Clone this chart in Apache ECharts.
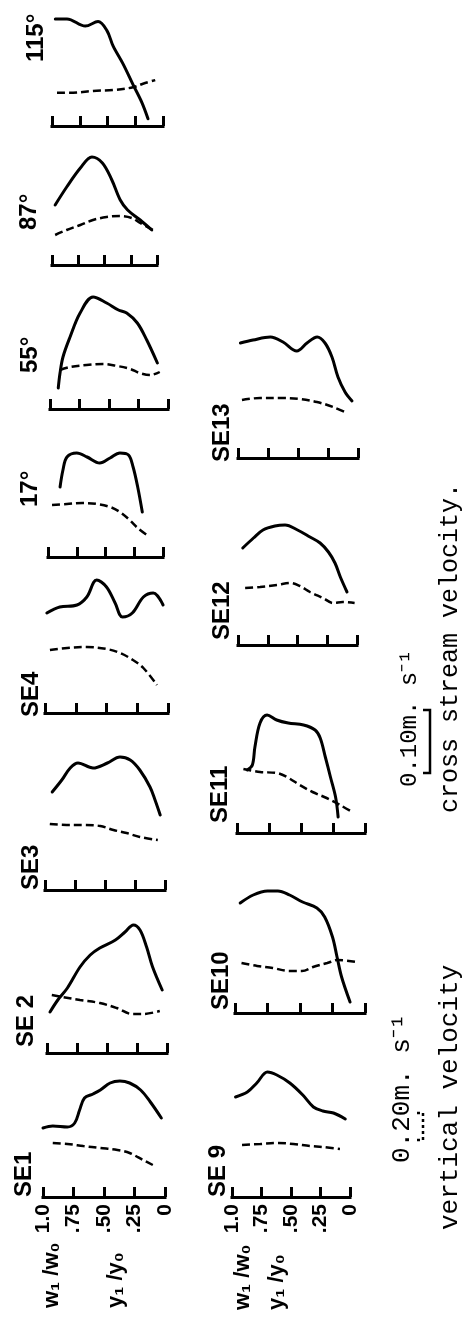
<!DOCTYPE html>
<html><head><meta charset="utf-8">
<script src="https://cdn.jsdelivr.net/npm/echarts@6/dist/echarts.min.js"></script>
<style>html,body{margin:0;padding:0;background:#fff}#c{width:468px;height:1319px}</style>
</head><body><div id="c"></div>
<script>
// ---- categories / tick labels ----
const panelNames = ['SE1', 'SE 2', 'SE3', 'SE4', '17°', '55°', '87°', '115°', 'SE 9', 'SE10', 'SE11', 'SE12', 'SE13'];
const tickValues = [0, 0.25, 0.5, 0.75, 1];
const tickLabels = ['0', '.25', '.50', '.75', '1.0'];

// ---- data: [y1/y0 position, profile height] ----
const solidSE1 = [[1.0,69],[0.92,71],[0.80,70],[0.74,74],[0.70,87],[0.66,99],[0.59,103],[0.53,107],[0.45,114],[0.37,116],[0.29,114],[0.20,107],[0.12,95],[0.03,79]];
const dashedSE1 = [[0.92,54],[0.80,53],[0.67,51],[0.53,49],[0.39,47],[0.29,44],[0.18,37],[0.10,32]];
const solidSE2 = [[0.975,41],[0.91,53],[0.83,65],[0.725,86],[0.64,98],[0.56,105],[0.43,113],[0.35,121],[0.28,128],[0.225,123],[0.17,106],[0.12,86],[0.04,63]];
const dashedSE2 = [[0.96,58],[0.87,56],[0.725,53],[0.56,50],[0.42,45],[0.29,39],[0.20,39],[0.06,42]];
const solidSE3 = [[0.94,98],[0.86,110],[0.79,122],[0.725,127],[0.60,122],[0.48,127],[0.375,133],[0.29,130],[0.21,120],[0.125,103],[0.083,90],[0.04,75]];
const dashedSE3 = [[0.96,66],[0.82,65],[0.68,65],[0.54,64],[0.43,60],[0.32,57],[0.21,53],[0.06,50]];
const solidSE4 = [[0.985,100],[0.88,106],[0.74,108],[0.66,116],[0.58,133],[0.50,126],[0.43,110],[0.37,96],[0.29,100],[0.20,116],[0.12,120],[0.04,108]];
const dashedSE4 = [[0.96,63],[0.82,65],[0.66,66],[0.50,64],[0.39,60],[0.285,53],[0.20,45],[0.09,28]];
const solid17 = [[0.895,70],[0.87,87],[0.835,100],[0.75,104],[0.66,100],[0.55,94],[0.46,99],[0.375,104],[0.30,102],[0.26,90],[0.22,70],[0.18,45]];
const dashed17 = [[0.965,52],[0.835,53],[0.70,54],[0.575,53],[0.46,50],[0.375,45],[0.29,37],[0.22,29],[0.14,22]];
const solid55 = [[0.93,21],[0.915,36],[0.89,52],[0.83,72],[0.745,96],[0.635,112],[0.52,106],[0.42,99],[0.35,96],[0.26,86],[0.18,69],[0.09,46]];
const dashed55 = [[0.915,39],[0.83,42],[0.69,44],[0.55,45],[0.43,43],[0.32,40],[0.24,36],[0.15,34],[0.07,37]];
const solid87 = [[0.97,60],[0.86,78],[0.73,97],[0.62,108],[0.52,102],[0.43,85],[0.35,65],[0.28,55],[0.16,45],[0.05,35]];
const dashed87 = [[0.97,30],[0.86,35],[0.73,40],[0.61,45],[0.48,48],[0.35,49],[0.24,47],[0.16,42],[0.04,35]];
const solid115 = [[0.97,119],[0.865,119],[0.70,111],[0.585,116],[0.505,106],[0.45,89],[0.36,69],[0.27,46],[0.19,26],[0.135,8]];
const dashed115 = [[0.955,37],[0.81,37],[0.63,39],[0.45,40],[0.27,43],[0.18,47],[0.07,51]];
const solidSE9 = [[0.97,100],[0.87,105],[0.79,114],[0.70,125],[0.62,122],[0.51,114],[0.40,102],[0.31,90],[0.23,86],[0.14,84],[0.04,78]];
const dashedSE9 = [[0.915,52],[0.76,53],[0.62,54],[0.48,53],[0.34,51],[0.23,50],[0.085,48]];
const solidSE10 = [[0.96,110],[0.86,118],[0.75,122],[0.67,122],[0.58,118],[0.48,111],[0.37,105],[0.31,96],[0.25,76],[0.215,56],[0.18,36],[0.115,11]];
const dashedSE10 = [[0.95,50],[0.83,47],[0.71,45],[0.58,42],[0.485,42],[0.40,46],[0.29,50],[0.21,53],[0.06,51]];
const solidSE11 = [[0.92,63],[0.88,68],[0.86,86],[0.82,110],[0.765,118],[0.69,113],[0.60,110],[0.48,108],[0.39,103],[0.35,95],[0.31,76],[0.27,56],[0.23,36],[0.21,16]];
const dashedSE11 = [[0.95,64],[0.82,61],[0.69,60],[0.61,56],[0.51,48],[0.41,41],[0.30,35],[0.195,28],[0.10,21]];
const solidSE12 = [[0.96,97],[0.87,107],[0.79,115],[0.69,119],[0.605,120],[0.50,115],[0.395,108],[0.31,102],[0.24,93],[0.185,82],[0.14,68],[0.084,53]];
const dashedSE12 = [[0.94,57],[0.815,58],[0.67,60],[0.56,62],[0.48,59],[0.395,53],[0.286,47],[0.20,42],[0.12,43],[0.02,42]];
const solidSE13 = [[0.98,115],[0.875,118],[0.73,121],[0.625,116],[0.51,107],[0.425,115],[0.34,121],[0.275,115],[0.217,101],[0.167,81],[0.108,66],[0.05,57]];
const dashedSE13 = [[0.967,58],[0.817,60],[0.65,60],[0.483,59],[0.342,56],[0.208,51],[0.092,45]];

const solidSets = [solidSE1, solidSE2, solidSE3, solidSE4, solid17, solid55, solid87, solid115, solidSE9, solidSE10, solidSE11, solidSE12, solidSE13];
const dashedSets = [dashedSE1, dashedSE2, dashedSE3, dashedSE4, dashed17, dashed55, dashed87, dashed115, dashedSE9, dashedSE10, dashedSE11, dashedSE12, dashedSE13];

// ---- layout (pixels): bracket left, right, baseline; label x, label start y ----
const layout = [
  {l:43, r:165, b:1197, lx:24, ly:1197, ticks:true},
  {l:47, r:167, b:1053, lx:26, ly:1047},
  {l:45, r:165, b:890,  lx:31, ly:890},
  {l:45, r:168, b:713,  lx:31, ly:717},
  {l:48, r:163, b:557,  lx:30, ly:507},
  {l:50, r:168, b:409,  lx:30, ly:373},
  {l:52, r:157, b:265,  lx:29, ly:230},
  {l:52, r:163, b:126,  lx:36, ly:62},
  {l:232, r:350, b:1197, lx:218, ly:1197, ticks:true},
  {l:235, r:365, b:1013, lx:221, ly:1010},
  {l:237, r:365, b:833,  lx:220, ly:823},
  {l:238, r:357, b:645,  lx:222, ly:640},
  {l:238, r:358, b:458,  lx:222, ly:462}
];
const H = 140;

const grids = [], xAxes = [], yAxes = [], series = [], graphics = [];
panelNames.forEach((name, i) => {
  const L = layout[i];
  grids.push({left: L.l, top: L.b - H, width: L.r - L.l, height: H, containLabel: false});
  xAxes.push({
    gridIndex: i, type: 'value', min: 0, max: 1, interval: 0.25, inverse: true,
    axisLine: {show: true, onZero: false, lineStyle: {color: '#000', width: 3, cap: 'square'}},
    axisTick: {show: true, inside: true, length: 10, lineStyle: {color: '#000', width: 3}},
    axisLabel: {
      show: !!L.ticks, rotate: 90, margin: 7, fontSize: 21, fontWeight: 'bold',
      fontFamily: 'Liberation Sans', color: '#000', showMinLabel: true, showMaxLabel: true,
      formatter: v => tickLabels[tickValues.indexOf(Math.round(v * 4) / 4)]
    },
    splitLine: {show: false}
  });
  yAxes.push({gridIndex: i, type: 'value', min: 0, max: H, show: false});
  series.push({
    type: 'line', xAxisIndex: i, yAxisIndex: i, data: solidSets[i], symbol: 'none',
    smooth: 0.35, clip: false, lineStyle: {color: '#000', width: 3, cap: 'round', join: 'round'}
  });
  series.push({
    type: 'line', xAxisIndex: i, yAxisIndex: i, data: dashedSets[i], symbol: 'none',
    smooth: 0.35, clip: false, lineStyle: {color: '#000', width: 2.5, type: [8, 4]}
  });
  graphics.push({
    type: 'text', x: L.lx, y: L.ly, rotation: Math.PI / 2,
    style: {text: name, fontSize: 24, fontWeight: 'bold', fontFamily: 'Liberation Sans',
            fill: '#000', align: 'left', verticalAlign: 'middle'}
  });
});

// axis names under the labelled panels
const axisNames = [
  {t: 'w₁ /w₀', x: 52, y: 1308}, {t: 'y₁ /y₀', x: 116, y: 1308},
  {t: 'w₁ /w₀', x: 243, y: 1310}, {t: 'y₁ /y₀', x: 277, y: 1310}
];
axisNames.forEach(a => graphics.push({
  type: 'text', x: a.x, y: a.y, rotation: Math.PI / 2,
  style: {text: a.t, fontSize: 22, fontWeight: 'bold', fontFamily: 'Liberation Sans',
          fill: '#000', align: 'left', verticalAlign: 'middle'}
}));

// scale legend texts
const legendTexts = [
  {t: '0.10m. s⁻¹', x: 410, y: 787, fs: 24},
  {t: 'cross stream velocity.', x: 450, y: 813, fs: 25},
  {t: '0.20m. s⁻¹', x: 402, y: 1163, fs: 26},
  {t: 'vertical velocity', x: 450, y: 1230, fs: 26}
];
legendTexts.forEach(a => graphics.push({
  type: 'text', x: a.x, y: a.y, rotation: Math.PI / 2,
  style: {text: a.t, fontSize: a.fs, fontFamily: 'Liberation Mono', fill: '#000',
          align: 'left', verticalAlign: 'middle'}
}));
// scale bars
graphics.push({type: 'polyline', shape: {points: [[423, 710], [430, 710], [430, 773], [423, 773]]},
  style: {stroke: '#000', lineWidth: 2.5, fill: null}});
graphics.push({type: 'polyline', shape: {points: [[417, 1113], [423, 1113], [423, 1140], [417, 1140]]},
  style: {stroke: '#000', lineWidth: 2.5, fill: null, lineDash: [3, 3]}});

const chart = echarts.init(document.getElementById('c'), null, {renderer: 'canvas'});
chart.setOption({
  backgroundColor: '#fff', animation: false,
  grid: grids, xAxis: xAxes, yAxis: yAxes, series: series, graphic: graphics
});
</script></body></html>
